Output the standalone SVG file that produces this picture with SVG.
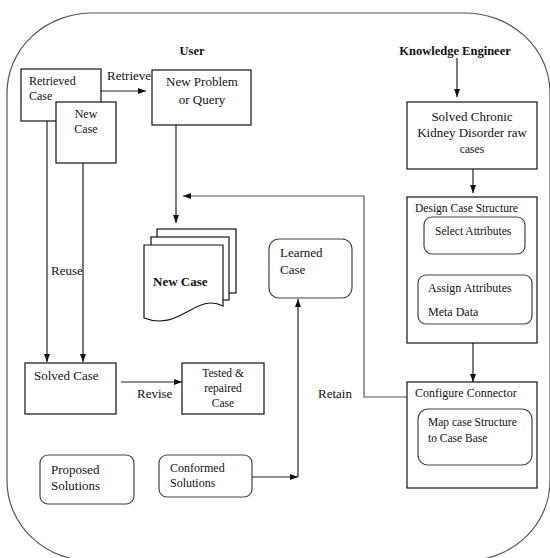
<svg xmlns="http://www.w3.org/2000/svg" width="550" height="558" viewBox="0 0 550 558" font-family="'Liberation Serif', 'Times New Roman', Times, 'DejaVu Serif', serif">
<style>
text{font-family:'Liberation Serif','Times New Roman',Times,'DejaVu Serif',serif;fill:#111;font-size:13px}
.b{font-weight:bold}
.s12{font-size:12px}
.s11{font-size:11.5px}
.box{fill:#fff;stroke:#111;stroke-width:1.2}
.rbox{fill:#fff;stroke:#444;stroke-width:1.2}
.ln{fill:none;stroke:#222;stroke-width:1.2}
.gl{fill:none;stroke:#555;stroke-width:1.2}
</style>
<defs>
<marker id="ah" viewBox="0 0 8 6" refX="8" refY="3" markerWidth="8" markerHeight="6" markerUnits="userSpaceOnUse" orient="auto">
<path d="M0,0 L8,3 L0,6 Z" fill="#111"/>
</marker>
</defs>
<rect width="550" height="558" fill="#fff"/>
<rect x="7" y="13" width="543" height="548" rx="85" ry="80" fill="none" stroke="#555" stroke-width="1.2"/>

<g id="connectors">
<line class="ln" x1="101" y1="91" x2="146" y2="91" marker-end="url(#ah)"/>
<line class="ln" x1="176" y1="125" x2="176" y2="223" marker-end="url(#ah)"/>
<line class="ln" x1="47" y1="121" x2="47" y2="362" marker-end="url(#ah)"/>
<line class="ln" x1="83" y1="163" x2="83" y2="362" marker-end="url(#ah)"/>
<line class="ln" x1="121" y1="382" x2="182" y2="382" marker-end="url(#ah)"/>
<line class="ln" x1="252" y1="477" x2="298" y2="477" marker-end="url(#ah)"/>
<line class="ln" x1="298" y1="477" x2="298" y2="299" marker-end="url(#ah)"/>
<line class="ln" x1="457" y1="58" x2="457" y2="97" marker-end="url(#ah)"/>
<line class="ln" x1="473" y1="169" x2="473" y2="193" marker-end="url(#ah)"/>
<line class="ln" x1="473" y1="343" x2="473" y2="382" marker-end="url(#ah)"/>
<polyline class="gl" points="407,397 364,397 364,196 183,196" marker-end="url(#ah)"/>
</g>

<g id="retrieved-case">
<rect class="box" x="21" y="69" width="80" height="52"/>
<text class="s12" x="29" y="85">Retrieved</text>
<text class="s12" x="29" y="100">Case</text>
</g>
<g id="new-case-small">
<rect class="box" x="56" y="102" width="60" height="61"/>
<text class="s12" x="86" y="118" text-anchor="middle">New</text>
<text class="s12" x="86" y="133" text-anchor="middle">Case</text>
</g>
<text x="107" y="80">Retrieve</text>
<text class="b" x="192" y="55" text-anchor="middle" style="font-size:12.5px">User</text>

<g id="new-problem">
<rect class="box" x="152" y="70" width="99" height="55"/>
<text x="202" y="86" text-anchor="middle">New Problem</text>
<text x="202" y="104" text-anchor="middle">or Query</text>
</g>

<g id="new-case-doc">
<rect class="box" x="157" y="229" width="79" height="64"/>
<rect class="box" x="151" y="237" width="78" height="63"/>
<path class="box" d="M144,245 H223 V306 C196,292 180,332 144,318 Z"/>
<text class="b" x="153" y="286">New Case</text>
</g>

<text x="51" y="275">Reuse</text>

<g id="solved-case">
<rect class="box" x="25" y="363" width="91" height="51"/>
<text x="34" y="380">Solved Case</text>
</g>
<text x="137" y="398">Revise</text>

<g id="tested-repaired">
<rect class="box" x="182" y="363" width="82" height="51"/>
<text class="s11" x="223" y="377" text-anchor="middle">Tested &amp;</text>
<text class="s11" x="223" y="392" text-anchor="middle">repaired</text>
<text class="s11" x="223" y="407" text-anchor="middle">Case</text>
</g>

<g id="learned-case">
<rect class="rbox" x="269" y="239" width="83" height="59" rx="10"/>
<text x="280" y="257">Learned</text>
<text x="280" y="274">Case</text>
</g>
<text x="318" y="398">Retain</text>

<g id="proposed-solutions">
<rect class="rbox" x="40" y="455" width="94" height="49" rx="8"/>
<text x="51" y="474">Proposed</text>
<text x="51" y="490">Solutions</text>
</g>

<g id="conformed-solutions">
<rect class="rbox" x="159" y="455" width="93" height="42" rx="8"/>
<text class="s12" x="170" y="472">Conformed</text>
<text class="s12" x="170" y="487">Solutions</text>
</g>

<text class="b" x="455" y="55" text-anchor="middle" style="font-size:12.5px">Knowledge Engineer</text>

<g id="solved-chronic">
<rect class="box" x="407" y="102" width="130" height="67"/>
<text x="472" y="121" text-anchor="middle">Solved Chronic</text>
<text x="472" y="137" text-anchor="middle">Kidney Disorder raw</text>
<text class="s11" x="472" y="153" text-anchor="middle">cases</text>
</g>

<g id="design-case-structure">
<rect class="box" x="407" y="197" width="130" height="146"/>
<text class="s11" x="415" y="212">Design Case Structure</text>
<rect class="rbox" x="424" y="217" width="101" height="37" rx="8"/>
<text class="s11" x="435" y="235">Select Attributes</text>
<rect class="rbox" x="418" y="275" width="114" height="49" rx="8"/>
<text class="s12" x="428" y="292">Assign Attributes</text>
<text class="s12" x="428" y="316">Meta Data</text>
</g>

<g id="configure-connector">
<rect class="box" x="407" y="382" width="130" height="106"/>
<text class="s12" x="415" y="397">Configure Connector</text>
<rect class="rbox" x="418" y="409" width="114" height="56" rx="10"/>
<text class="s11" x="428" y="426">Map case Structure</text>
<text class="s11" x="428" y="442">to Case Base</text>
</g>
</svg>
